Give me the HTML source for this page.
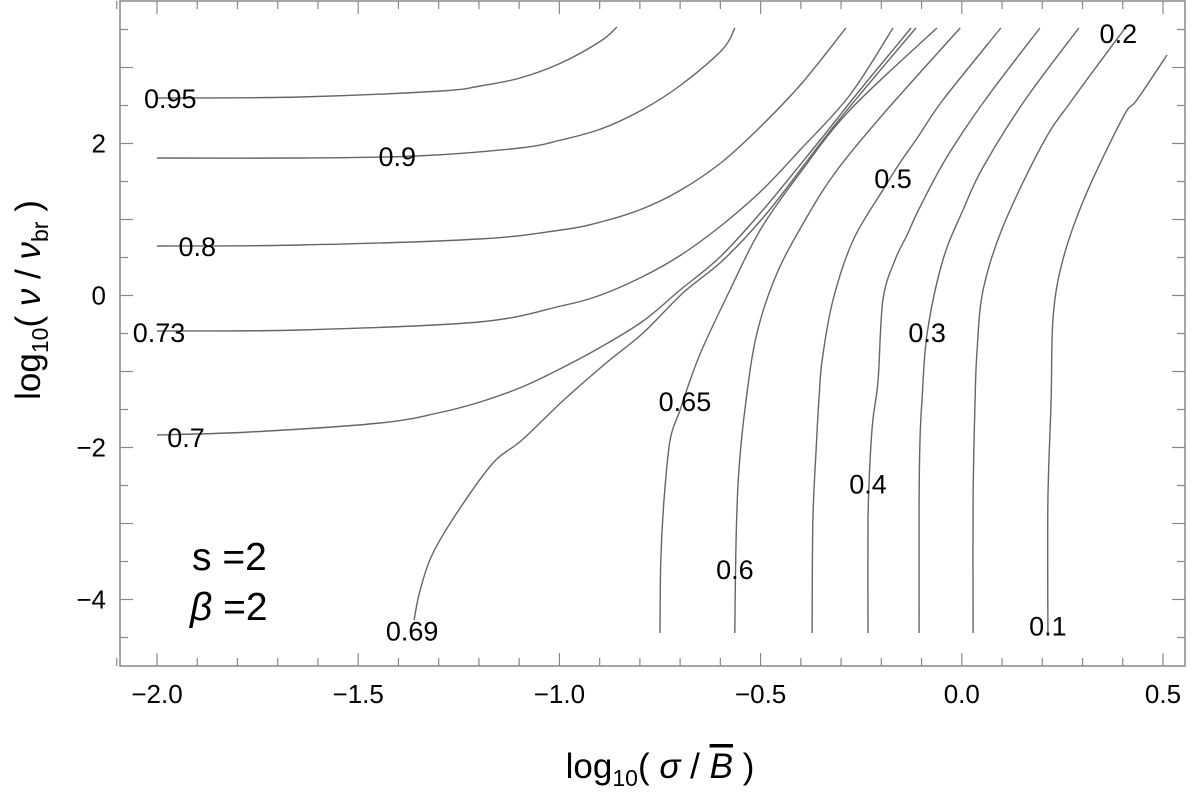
<!DOCTYPE html>
<html><head><meta charset="utf-8"><title>Contour plot</title>
<style>
html,body{margin:0;padding:0;background:#fff;}
svg{display:block;font-family:"Liberation Sans",Arial,sans-serif;}
</style></head>
<body>
<svg id="chart" width="1200" height="794" viewBox="0 0 1200 794" xmlns="http://www.w3.org/2000/svg">
<rect x="0" y="0" width="1200" height="794" fill="#fff"/>
<g id="contours"></g>
<g id="clabels"></g>
<g id="axes"></g>
<text x="192" y="570" font-size="39">s =2</text>
<text x="190" y="620" font-size="39"><tspan font-style="italic">β</tspan> =2</text>
<text x="660" y="778" font-size="35" text-anchor="middle">log<tspan font-size="23" dy="8">10</tspan><tspan dy="-8">( </tspan><tspan font-style="italic">σ</tspan> / <tspan font-style="italic" text-decoration="overline">B</tspan> )</text>
<text transform="translate(40,300) rotate(-90)" font-size="35" text-anchor="middle">log<tspan font-size="23" dy="8">10</tspan><tspan dy="-8">( </tspan><tspan font-style="italic">ν</tspan> / <tspan font-style="italic">ν</tspan><tspan font-size="23" dy="8">br</tspan><tspan dy="-8"> )</tspan></text>
</svg>
<script>
// ---- data (log10 sigma/B, log10 nu/nu_br) ----
const levels = ["0.95","0.9","0.8","0.73","0.7","0.69","0.65","0.6","0.5","0.4","0.3","0.2","0.1"];
const c095x = [-2.000,-1.645,-1.294,-1.197,-1.098,-0.996,-0.897,-0.857];
const c095y = [2.599,2.612,2.691,2.757,2.862,3.059,3.349,3.533];
const c09x = [-2.000,-1.645,-1.354,-1.098,-0.996,-0.897,-0.795,-0.698,-0.596,-0.564];
const c09y = [1.809,1.809,1.836,1.941,2.046,2.191,2.441,2.770,3.230,3.520];
const c08x = [-2.000,-1.645,-1.200,-0.996,-0.897,-0.795,-0.698,-0.596,-0.496,-0.395,-0.288];
const c08y = [0.651,0.664,0.743,0.862,0.967,1.138,1.388,1.757,2.243,2.809,3.520];
const c073x = [-2.000,-1.645,-1.200,-0.996,-0.897,-0.795,-0.698,-0.596,-0.496,-0.402,-0.278,-0.171];
const c073y = [-0.467,-0.454,-0.349,-0.138,0.007,0.243,0.533,0.928,1.388,1.914,2.638,3.520];
const c07x = [-2.000,-1.769,-1.446,-1.302,-1.197,-1.093,-0.994,-0.897,-0.792,-0.700,-0.601,-0.494,-0.352,-0.253,-0.126];
const c07y = [-1.836,-1.796,-1.678,-1.546,-1.401,-1.204,-0.954,-0.678,-0.336,0.072,0.507,1.125,2.046,2.704,3.520];
const c069x = [-1.361,-1.346,-1.314,-1.250,-1.165,-1.093,-0.989,-0.884,-0.792,-0.693,-0.593,-0.484,-0.345,-0.248,-0.114];
const c069y = [-4.270,-3.875,-3.388,-2.822,-2.204,-1.901,-1.375,-0.888,-0.493,0.033,0.467,1.086,2.046,2.678,3.520];
const c065x = [-0.750,-0.748,-0.740,-0.725,-0.700,-0.675,-0.643,-0.576,-0.501,-0.402,-0.278,-0.062];
const c065y = [-4.441,-3.480,-2.691,-1.901,-1.507,-1.112,-0.678,0.072,0.862,1.612,2.441,3.520];
const c06x = [-0.564,-0.561,-0.554,-0.536,-0.509,-0.459,-0.385,-0.310,-0.190,-0.004];
const c06y = [-4.441,-3.217,-2.296,-1.375,-0.493,0.296,1.033,1.651,2.420,3.520];
const c05x = [-0.372,-0.370,-0.362,-0.355,-0.347,-0.320,-0.270,-0.196,-0.154,-0.109,-0.047,0.097];
const c05y = [-4.441,-2.954,-2.033,-1.375,-0.849,-0.059,0.730,1.388,1.743,2.086,2.572,3.520];
const c04x = [-0.233,-0.233,-0.228,-0.221,-0.208,-0.196,-0.166,-0.136,-0.104,-0.037,0.058,0.194];
const c04y = [-4.441,-2.954,-2.164,-1.638,-1.112,-0.059,0.467,0.796,1.164,1.822,2.572,3.520];
const c03x = [-0.106,-0.106,-0.104,-0.099,-0.086,-0.047,0.003,0.053,0.157,0.291];
const c03y = [-4.441,-2.691,-1.901,-1.375,-0.493,0.467,1.125,1.691,2.572,3.520];
const c02x = [0.028,0.028,0.033,0.038,0.053,0.102,0.202,0.274,0.406];
const c02y = [-4.441,-2.691,-1.375,-0.717,0.072,0.901,2.007,2.572,3.520];
const c01x = [0.214,0.214,0.222,0.227,0.251,0.306,0.401,0.435,0.510];
const c01y = [-4.441,-2.691,-1.375,-0.283,0.467,1.296,2.349,2.572,3.164];
const labelX = [-1.967,-1.403,-1.900,-1.995,-1.928,-1.366,-0.688,-0.564,-0.171,-0.233,-0.086,0.389,0.214];
const labelY = [2.599,1.836,0.651,-0.480,-1.862,-4.409,-1.388,-3.598,1.546,-2.474,-0.480,3.454,-4.343];
const xTickVals = [-2.0,-1.5,-1.0,-0.5,0.0,0.5];
const xTickLabels = ["\u22122.0","\u22121.5","\u22121.0","\u22120.5","0.0","0.5"];
const yTickVals = [2,0,-2,-4];
const yTickLabels = ["2","0","\u22122","\u22124"];

// ---- axis functions ----
const L=120,R=1185,T=1,B=666;
const X=v=>157+(v+2)*402.4;
const Y=v=>295.5-v*76;
const NS="http://www.w3.org/2000/svg";
function mk(tag,attrs,parent){const e=document.createElementNS(NS,tag);for(const k in attrs)e.setAttribute(k,attrs[k]);parent.appendChild(e);return e;}
function smoothPath(pts){
  let d='M'+pts[0][0].toFixed(1)+','+pts[0][1].toFixed(1);
  for(let i=0;i<pts.length-1;i++){
    const p0=pts[i-1]||pts[i],p1=pts[i],p2=pts[i+1],p3=pts[i+2]||p2;
    const c1=[p1[0]+(p2[0]-p0[0])/6,p1[1]+(p2[1]-p0[1])/6];
    const c2=[p2[0]-(p3[0]-p1[0])/6,p2[1]-(p3[1]-p1[1])/6];
    d+=' C'+c1[0].toFixed(1)+','+c1[1].toFixed(1)+' '+c2[0].toFixed(1)+','+c2[1].toFixed(1)+' '+p2[0].toFixed(1)+','+p2[1].toFixed(1);
  }
  return d;
}

const series=[[c095x,c095y],[c09x,c09y],[c08x,c08y],[c073x,c073y],[c07x,c07y],[c069x,c069y],[c065x,c065y],[c06x,c06y],[c05x,c05y],[c04x,c04y],[c03x,c03y],[c02x,c02y],[c01x,c01y]];
const cg=document.getElementById('contours');
series.forEach((s,i)=>{
  const pts=s[0].map((x,j)=>[X(x),Y(s[1][j])]);
  const p=mk('path',{d:smoothPath(pts),fill:'none',stroke:'#666','stroke-width':'1.4','stroke-linejoin':'round'},cg);
  
  
});
const lg=document.getElementById('clabels');
levels.forEach((t,i)=>{
  const e=mk('text',{x:X(labelX[i]),y:Y(labelY[i])+10,'font-size':'27','text-anchor':'middle',fill:'#000'},lg);
  e.textContent=t;
  
  
});

const ag=document.getElementById('axes');
const fr=mk('rect',{x:L,y:T,width:R-L,height:B-T,fill:'none',stroke:'#888','stroke-width':'1.5'},ag);


for(let k=-21;k<=5;k++){
  const v=k/10, px=X(v), major=(k%5===0), len=major?13:8;
  mk('line',{x1:px,y1:B,x2:px,y2:B-len,stroke:'#888','stroke-width':'1.2'},ag);
  mk('line',{x1:px,y1:T,x2:px,y2:T+len,stroke:'#888','stroke-width':'1.2'},ag);
}
for(let k=-9;k<=7;k++){
  const v=k/2, py=Y(v), major=(k%2===0), len=major?13:8;
  if(py<T||py>B)continue;
  mk('line',{x1:L,y1:py,x2:L+len,y2:py,stroke:'#888','stroke-width':'1.2'},ag);
  mk('line',{x1:R,y1:py,x2:R-len,y2:py,stroke:'#888','stroke-width':'1.2'},ag);
}
xTickVals.forEach((v,i)=>{
  const e=mk('text',{x:X(v),y:703,'font-size':'26','text-anchor':'middle'},ag);
  e.textContent=xTickLabels[i];
  
  
});
yTickVals.forEach((v,i)=>{
  const e=mk('text',{x:106,y:Y(v)+9,'font-size':'26','text-anchor':'end'},ag);
  e.textContent=yTickLabels[i];
  
  
});
</script>
</body></html>
